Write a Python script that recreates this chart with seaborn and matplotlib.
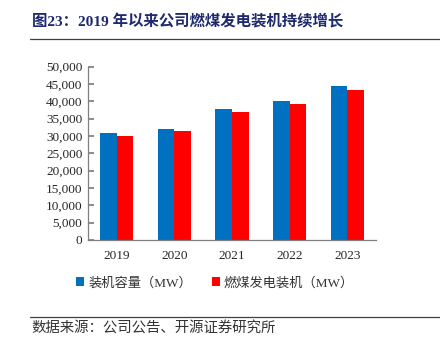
import matplotlib
matplotlib.use("Agg")
import matplotlib.pyplot as plt
from matplotlib.lines import Line2D
from matplotlib.patches import Patch
import seaborn as sns
import pandas as pd

years = ["2019", "2020", "2021", "2022", "2023"]
installed = [31000, 32100, 37900, 40200, 44400]
coal = [30100, 31400, 36900, 39200, 43200]
series_names = ["装机容量（MW）", "燃煤发电装机（MW）"]
colors = ["#0070C0", "#FF0000"]
y_ticks = [0, 5000, 10000, 15000, 20000, 25000, 30000, 35000, 40000, 45000, 50000]

title = "图23：2019 年以来公司燃煤发电装机持续增长"
source = "数据来源：公司公告、开源证券研究所"

df = pd.DataFrame({
    "year": years * 2,
    "value": installed + coal,
    "series": [series_names[0]] * len(years) + [series_names[1]] * len(years),
})

sns.set_theme(style="white")
cjk = ["Noto Sans CJK SC", "DejaVu Sans"]
serif = ["Liberation Serif", "DejaVu Serif"]
mixed = ["Liberation Serif", "Noto Sans CJK SC"]
plt.rcParams["font.family"] = cjk

fig = plt.figure(figsize=(4.4, 3.43), dpi=100)
ax = fig.add_axes([88 / 440, 1 - 240 / 343, (376 - 88) / 440, (240 - 66.7) / 343])

sns.barplot(data=df, x="year", y="value", hue="series", palette=colors,
            width=0.575, gap=0, saturation=1, legend=False, ax=ax,
            edgecolor="none", linewidth=0)

ax.set_xlim(-0.5, len(years) - 0.5)
ax.set_ylim(0, 50000)
ax.set_yticks(y_ticks)
ax.set_yticklabels([f"{v:,}" for v in y_ticks], fontfamily=serif, fontsize=9.5)
ax.set_xticks(range(len(years)))
ax.set_xticklabels(years, fontfamily=serif, fontsize=9.5)
ax.tick_params(axis="x", which="major", length=0, pad=7)
ax.set_xticks([i + 0.5 for i in range(len(years))], minor=True)
ax.tick_params(axis="x", which="minor", direction="in", length=4, color="#7f7f7f")
ax.tick_params(axis="y", direction="in", length=4, color="#7f7f7f", pad=4, left=True)
ax.set_xlabel("")
ax.set_ylabel("")
for side in ["top", "right"]:
    ax.spines[side].set_visible(False)
for side in ["left", "bottom"]:
    ax.spines[side].set_color("#7f7f7f")
    ax.spines[side].set_linewidth(0.9)
ax.grid(False)

handles = [Patch(facecolor=c, edgecolor="none") for c in colors]
fig.legend(handles, series_names, loc="center left", bbox_to_anchor=(71 / 440, 1 - 283 / 343),
           ncol=2, frameon=False, prop={"family": mixed, "size": 9.5},
           handlelength=0.6, handleheight=0.6, labelcolor="#333333",
           handletextpad=0.3, columnspacing=1.5, borderaxespad=0)

fig.text(32 / 440, 1 - 22 / 343, title, fontsize=11.1, fontweight="bold", family=mixed,
         color="#1F2A6E", va="center", ha="left")
fig.add_artist(Line2D([30 / 440, 1.0], [1 - 39 / 343] * 2, color="#404040", linewidth=0.9))
fig.add_artist(Line2D([30 / 440, 1.0], [1 - 317 / 343] * 2, color="#404040", linewidth=0.9))
fig.text(31 / 440, 1 - 328 / 343, source, fontsize=10.4, color="#333333", va="center", ha="left")

fig.savefig("out.png", dpi=100)
